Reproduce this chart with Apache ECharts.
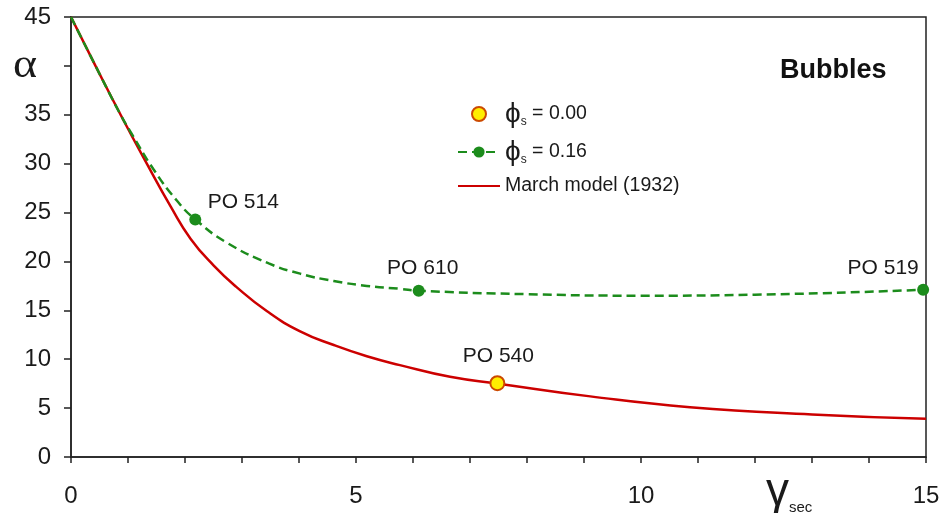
<!DOCTYPE html>
<html>
<head>
<meta charset="utf-8">
<script src="https://cdn.jsdelivr.net/npm/echarts@6/dist/echarts.min.js"></script>
<style>html,body{margin:0;padding:0;background:#fff;}#c{width:943px;height:513px;}</style>
</head>
<body>
<div id="c"></div>
<script>
// March model (1932) curve
const redX = [0, 0.43, 0.87, 1.33, 1.75, 2.1, 2.5, 2.9, 3.44, 4.02, 4.61, 5.19, 5.77, 6.65, 7.5, 9.11, 10.86, 13, 15];
const redY = [45, 40, 35, 30, 25.6, 22.3, 19.6, 17.4, 14.9, 12.85, 11.45, 10.3, 9.4, 8.2, 7.5, 6.2, 5.1, 4.35, 3.9];
// phi_s = 0.16 curve (points with a label are measured samples)
const greenX = [0, 0.43, 0.87, 1.05, 1.45, 1.86, 2.18, 2.74, 3.47, 4.02, 4.61, 5.19, 5.77, 6.1, 8, 10, 12, 14.95];
const greenY = [45, 40, 35, 33.2, 29.4, 26.2, 24.3, 21.9, 19.8, 18.75, 18.0, 17.5, 17.2, 17.0, 16.65, 16.5, 16.6, 17.1];
const greenLabels = ['', '', '', '', '', '', 'PO 514', '', '', '', '', '', '', 'PO 610', '', '', '', 'PO 519'];
// phi_s = 0.00 sample
const yellowX = [7.48];
const yellowY = [7.55];
const yellowLabels = ['PO 540'];
// axes
const xTickLabels = [0, 5, 10, 15];
const yTickLabels = [0, 5, 10, 15, 20, 25, 30, 35, 45];
const seriesNames = ['phi0', 'phi16', 'March model (1932)'];
const legendText = {phi0: '0.00', phi16: '0.16'};

const FONT = 'Liberation Sans, Arial, sans-serif';
const labelOffsets = {'PO 514': [48, 4], 'PO 610': [4, -1], 'PO 519': [-40, 0], 'PO 540': [1, -3]};
const labelStyle = {color: '#1a1a1a', opacity: 1, fontSize: 21, fontFamily: FONT};

const greenData = greenX.map((x, i) => {
  const lab = greenLabels[i];
  if (!lab) return {value: [x, greenY[i]], symbol: 'none'};
  return {value: [x, greenY[i]], symbol: 'circle',
    label: Object.assign({show: true, formatter: lab, position: 'top', offset: labelOffsets[lab]}, labelStyle)};
});
const yellowData = yellowX.map((x, i) => ({value: [x, yellowY[i]], name: yellowLabels[i],
  label: {offset: labelOffsets[yellowLabels[i]]}}));

const chart = echarts.init(document.getElementById('c'), null, {renderer: 'canvas'});
chart.setOption({
  animation: false,
  backgroundColor: '#ffffff',
  grid: {left: 71, right: 17, top: 17, bottom: 56, show: true, borderColor: '#222', borderWidth: 1.5, backgroundColor: 'transparent'},
  xAxis: {
    type: 'value', min: 0, max: 15, interval: 1,
    axisLine: {show: true, lineStyle: {color: '#222', width: 1.5}},
    axisTick: {show: true, inside: false, length: 6, lineStyle: {color: '#222', width: 1.5}},
    splitLine: {show: false},
    axisLabel: {margin: 27, fontSize: 24, color: '#1a1a1a', fontFamily: FONT,
      formatter: v => xTickLabels.indexOf(v) >= 0 ? String(v) : ''}
  },
  yAxis: {
    type: 'value', min: 0, max: 45, interval: 5,
    axisLine: {show: true, lineStyle: {color: '#222', width: 1.5}},
    axisTick: {show: true, inside: false, length: 7, lineStyle: {color: '#222', width: 1.5}},
    splitLine: {show: false},
    axisLabel: {margin: 20, fontSize: 24, color: '#1a1a1a', fontFamily: FONT,
      formatter: v => yTickLabels.indexOf(v) >= 0 ? String(v) : ''}
  },
  legend: {
    orient: 'vertical', left: 452, top: 95, itemGap: 10, itemWidth: 42, itemHeight: 14,
    data: [
      {name: seriesNames[0]},
      {name: seriesNames[1]},
      {name: seriesNames[2], itemStyle: {opacity: 0}}
    ],
    formatter: name => legendText[name] ? '{phi|ϕ}{sub|s}{t| = ' + legendText[name] + '}' : '{t|' + name + '}',
    textStyle: {
      color: '#1a1a1a', fontFamily: FONT, fontSize: 19.5,
      rich: {
        phi: {fontSize: 28, fontFamily: FONT, color: '#1a1a1a'},
        sub: {fontSize: 12, fontFamily: FONT, color: '#1a1a1a', verticalAlign: 'bottom', padding: [10, 0, 0, 0]},
        t: {fontSize: 19.5, fontFamily: FONT, color: '#1a1a1a'}
      }
    }
  },
  graphic: [
    {type: 'text', left: 13, top: 46, scaleX: 1.15, style: {text: 'α', font: '40px Liberation Serif, Times New Roman, serif', fill: '#1a1a1a'}},
    {type: 'text', left: 766, top: 469, style: {text: '{g|γ}{s|sec}', rich: {
      g: {font: '46px ' + FONT, fill: '#1a1a1a'},
      s: {font: '15px ' + FONT, fill: '#1a1a1a', verticalAlign: 'bottom', padding: [22, 0, 0, 0]}
    }}},
    {type: 'text', left: 780, top: 57, style: {text: 'Bubbles', font: 'bold 27px ' + FONT, fill: '#111'}}
  ],
  series: [
    {
      name: seriesNames[0], type: 'scatter', z: 5,
      symbol: 'circle', symbolSize: 14,
      itemStyle: {color: '#ffee00', borderColor: '#cc4a00', borderWidth: 2, opacity: 1},
      label: Object.assign({show: true, position: 'top', formatter: '{b}'}, labelStyle),
      emphasis: {disabled: true},
      data: yellowData
    },
    {
      name: seriesNames[1], type: 'line', z: 4, smooth: 0.5,
      symbol: 'circle', symbolSize: 12, showAllSymbol: true,
      lineStyle: {color: '#1c8c1c', width: 2.5, type: [9, 5]},
      itemStyle: {color: '#1c8c1c'},
      data: greenData
    },
    {
      name: seriesNames[2], type: 'line', z: 3, smooth: 0.5, symbol: 'none',
      lineStyle: {color: '#cc0000', width: 2.5},
      itemStyle: {color: '#cc0000'},
      data: redX.map((x, i) => [x, redY[i]])
    }
  ]
});
</script>
</body>
</html>
